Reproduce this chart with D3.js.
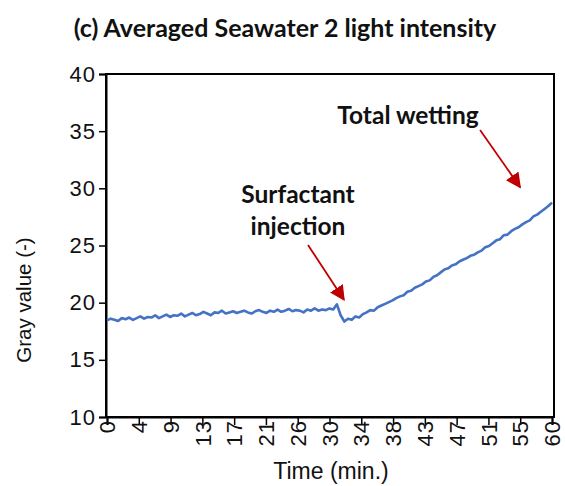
<!DOCTYPE html>
<html>
<head>
<meta charset="utf-8">
<script src="https://cdn.jsdelivr.net/npm/d3@7"></script>
<style>
  html, body { margin: 0; padding: 0; background: #fff; }
  svg { display: block; }
</style>
</head>
<body>
<svg id="chart" width="565" height="486"></svg>
<script>
// ---- Data ----
const chartTitle = "(c) Averaged Seawater 2 light intensity";
const xAxisTitle = "Time (min.)";
const yAxisTitle = "Gray value (-)";
const xTickLabels = ["0","4","9","13","17","21","26","30","34","38","43","47","51","55","60"];
const yTickValues = [10, 15, 20, 25, 30, 35, 40];
const sampleStepMin = 0.5;
const grayValues = [
  18.45, 18.6, 18.5, 18.4, 18.65, 18.55, 18.7, 18.5, 18.65, 18.8,
  18.6, 18.75, 18.7, 18.9, 18.65, 18.8, 18.95, 18.75, 18.9, 18.85,
  19.05, 18.8, 18.95, 19.1, 18.9, 19.0, 19.2, 19.05, 18.9, 19.15,
  19.1, 19.3, 19.05, 19.15, 19.25, 19.1, 19.2, 19.3, 19.15, 19.05,
  19.25, 19.35, 19.2, 19.1, 19.3, 19.2, 19.4, 19.2, 19.3, 19.45,
  19.25, 19.35, 19.3, 19.15, 19.4, 19.3, 19.5, 19.3, 19.4, 19.35,
  19.5, 19.4, 19.85, 18.9, 18.35, 18.6, 18.5, 18.8, 18.7, 19.0,
  19.15, 19.35, 19.3, 19.6, 19.75, 19.9, 20.05, 20.2, 20.4, 20.55,
  20.65, 20.95, 21.05, 21.3, 21.45, 21.6, 21.85, 21.95, 22.25, 22.4,
  22.65, 22.9, 23.0, 23.25, 23.35, 23.6, 23.75, 23.9, 24.1, 24.2,
  24.4, 24.55, 24.85, 24.95, 25.2, 25.45, 25.55, 25.9, 25.95, 26.25,
  26.45, 26.6, 26.85, 27.05, 27.2, 27.55, 27.7, 27.95, 28.2, 28.45,
  28.75
];
const annotations = [
  { lines: ["Total wetting"], textX: 408, textY: 124, from: [50.3, 35.1], to: [55.7, 30.1] },
  { lines: ["Surfactant", "injection"], textX: 298, textY: 203, from: [27.1, 25.05], to: [31.95, 20.25] }
];

// ---- Layout ----
const svg = d3.select("#chart");
const plot = { left: 107, right: 552, top: 74, bottom: 417 };
const boxRight = 554;

const x = d3.scaleLinear().domain([0, 60]).range([plot.left, plot.right]);
const y = d3.scaleLinear().domain([10, 40]).range([plot.bottom, plot.top]);

const tickFont = "'Liberation Sans', Arial, sans-serif";
const boldFont = "Lato, 'Open Sans', sans-serif";

// Title
svg.append("text")
  .attr("x", 285).attr("y", 37)
  .attr("text-anchor", "middle")
  .attr("font-family", boldFont).attr("font-weight", "bold")
  .attr("font-size", 25).attr("fill", "#111")
  .text(chartTitle);

// Plot box
svg.append("rect")
  .attr("x", plot.left - 1).attr("y", plot.top)
  .attr("width", boxRight - plot.left + 1).attr("height", plot.bottom - plot.top)
  .attr("fill", "none").attr("stroke", "#000").attr("stroke-width", 2);

// Y axis
const yAxis = d3.axisLeft(y).tickValues(yTickValues).tickSize(7).tickPadding(3);
const gy = svg.append("g").attr("transform", `translate(${plot.left - 1},0)`).call(yAxis);
gy.select(".domain").attr("stroke", "#000").attr("stroke-width", 2);
gy.selectAll(".tick line").attr("stroke", "#000").attr("stroke-width", 1.5);
gy.selectAll(".tick text")
  .attr("font-family", tickFont).attr("font-size", 22)
  .attr("letter-spacing", 1).attr("fill", "#111");

// X axis (category-style equal spacing)
const xTickPositions = xTickLabels.map((d, i) => i * 60 / (xTickLabels.length - 1));
const xAxis = d3.axisBottom(x).tickValues(xTickPositions)
  .tickFormat((d, i) => xTickLabels[i]).tickSize(8).tickPadding(4);
const gx = svg.append("g").attr("transform", `translate(0,${plot.bottom})`).call(xAxis);
gx.select(".domain").attr("stroke", "#000").attr("stroke-width", 2);
gx.selectAll(".tick line").attr("stroke", "#000").attr("stroke-width", 1.5);
gx.selectAll(".tick text")
  .attr("font-family", tickFont).attr("font-size", 22)
  .attr("letter-spacing", 1).attr("fill", "#111")
  .attr("transform", "rotate(-90)")
  .attr("text-anchor", "end")
  .attr("dy", "0.35em")
  .attr("x", -3).attr("y", 0);

// Axis titles
svg.append("text")
  .attr("x", 331).attr("y", 479)
  .attr("text-anchor", "middle")
  .attr("font-family", tickFont).attr("font-size", 23).attr("fill", "#111")
  .text(xAxisTitle);
svg.append("text")
  .attr("transform", "translate(31,300) rotate(-90)")
  .attr("text-anchor", "middle")
  .attr("font-family", tickFont).attr("font-size", 20.5).attr("fill", "#111")
  .text(yAxisTitle);

// Data line
const series = grayValues.map((v, i) => ({ t: i * sampleStepMin, v }));
const line = d3.line().x(d => x(d.t)).y(d => y(d.v));
svg.append("path")
  .datum(series)
  .attr("d", line)
  .attr("fill", "none")
  .attr("stroke", "#4472C4")
  .attr("stroke-width", 2.6)
  .attr("stroke-linejoin", "round");

// Annotations
const defs = svg.append("defs");
defs.append("marker")
  .attr("id", "arrowHead")
  .attr("viewBox", "0 0 10 10")
  .attr("refX", 9).attr("refY", 5)
  .attr("markerWidth", 8.5).attr("markerHeight", 8.5)
  .attr("markerUnits", "strokeWidth")
  .attr("orient", "auto")
  .append("path").attr("d", "M0,0 L10,5 L0,10 Z").attr("fill", "#C00000");

annotations.forEach(a => {
  const t = svg.append("text")
    .attr("text-anchor", "middle")
    .attr("font-family", boldFont).attr("font-weight", "bold")
    .attr("font-size", 24.5).attr("fill", "#111");
  a.lines.forEach((ln, i) => {
    t.append("tspan").attr("x", a.textX).attr("y", a.textY + i * 32).text(ln);
  });
  svg.append("line")
    .attr("x1", x(a.from[0])).attr("y1", y(a.from[1]))
    .attr("x2", x(a.to[0])).attr("y2", y(a.to[1]))
    .attr("stroke", "#C00000").attr("stroke-width", 1.8)
    .attr("marker-end", "url(#arrowHead)");
});
</script>
</body>
</html>
